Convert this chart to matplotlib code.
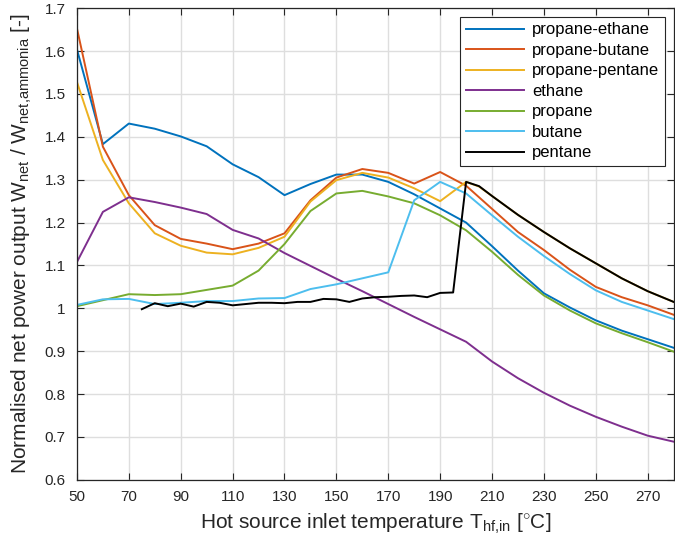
import matplotlib
matplotlib.use('Agg')
import matplotlib.pyplot as plt
from matplotlib.ticker import FuncFormatter

# hot source inlet temperatures
T = [50, 60, 70, 80, 90, 100, 110, 120, 130, 140, 150, 160, 170, 180, 190,
     200, 210, 220, 230, 240, 250, 260, 270, 280]

propane_ethane = [1.604, 1.383, 1.431, 1.419, 1.401, 1.378, 1.336, 1.306, 1.264, 1.290,
                  1.312, 1.312, 1.295, 1.266, 1.233, 1.200, 1.145, 1.088, 1.035, 1.002,
                  0.972, 0.948, 0.928, 0.908]
propane_butane = [1.653, 1.377, 1.264, 1.194, 1.162, 1.151, 1.138, 1.151, 1.175, 1.252,
                  1.305, 1.325, 1.316, 1.291, 1.318, 1.286, 1.232, 1.178, 1.136, 1.090,
                  1.050, 1.026, 1.007, 0.985]
ethane = [1.108, 1.225, 1.259, 1.248, 1.235, 1.220, 1.183, 1.163, 1.129, 1.099,
          1.069, 1.040, 1.010, 0.980, 0.951, 0.922, 0.876, 0.837, 0.803, 0.773,
          0.747, 0.724, 0.703, 0.689]
propane = [1.005, 1.019, 1.033, 1.031, 1.033, 1.043, 1.053, 1.088, 1.150, 1.227,
           1.268, 1.274, 1.261, 1.245, 1.217, 1.182, 1.132, 1.078, 1.030, 0.995,
           0.965, 0.942, 0.921, 0.899]
butane = [1.008, 1.021, 1.022, 1.010, 1.013, 1.017, 1.017, 1.023, 1.024, 1.045,
          1.056, 1.070, 1.084, 1.252, 1.295, 1.268, 1.217, 1.167, 1.122, 1.080,
          1.042, 1.015, 0.995, 0.975]

# propane-pentane has an extra point at 205
T_pp = [50, 60, 70, 80, 90, 100, 110, 120, 130, 140, 150, 160, 170, 180, 190,
        200, 205, 210, 220, 230, 240, 250, 260, 270, 280]
propane_pentane = [1.528, 1.346, 1.245, 1.175, 1.146, 1.130, 1.126, 1.141, 1.167, 1.249,
                   1.299, 1.316, 1.305, 1.280, 1.250, 1.295, 1.284, 1.262, 1.218, 1.178,
                   1.140, 1.105, 1.070, 1.040, 1.015]

# pentane was run on a finer 5 degree step
T_pent = [75, 80, 85, 90, 95, 100, 105, 110, 115, 120, 125, 130, 135, 140, 145, 150,
          155, 160, 165, 170, 175, 180, 185, 190, 195, 200, 205, 210, 220, 230, 240,
          250, 260, 270, 280]
pentane = [0.998, 1.012, 1.005, 1.011, 1.004, 1.015, 1.013, 1.007, 1.010, 1.013,
           1.013, 1.012, 1.015, 1.015, 1.022, 1.021, 1.015, 1.023, 1.026, 1.027,
           1.029, 1.030, 1.026, 1.036, 1.037, 1.295, 1.285, 1.262, 1.218, 1.178,
           1.140, 1.105, 1.070, 1.040, 1.015]

plt.rcParams['font.family'] = ['Liberation Sans', 'DejaVu Sans']
plt.rcParams['mathtext.fontset'] = 'custom'
plt.rcParams['mathtext.rm'] = 'Liberation Sans'
plt.rcParams['mathtext.it'] = 'Liberation Sans'

fig = plt.figure(figsize=(6.75, 5.49), dpi=100)
ax = fig.add_axes([0.114, 0.126, 0.884, 0.859])

lw = 1.4
ax.plot(T, propane_ethane, color='#0072BD', lw=lw, label='propane-ethane')
ax.plot(T, propane_butane, color='#D95319', lw=lw, label='propane-butane')
ax.plot(T_pp, propane_pentane, color='#EDB120', lw=lw, label='propane-pentane')
ax.plot(T, ethane, color='#7E2F8E', lw=lw, label='ethane')
ax.plot(T, propane, color='#77AC30', lw=lw, label='propane')
ax.plot(T, butane, color='#4DBEEE', lw=lw, label='butane')
ax.plot(T_pent, pentane, color='black', lw=lw, label='pentane')

ax.set_xlim(50, 280)
ax.set_ylim(0.6, 1.7)
ax.set_xticks(range(50, 280, 20))
ax.set_yticks([0.6 + 0.1 * i for i in range(12)])
ax.yaxis.set_major_formatter(FuncFormatter(lambda v, p: '%g' % round(v, 1)))

ax.grid(True, color='#dedede', lw=1.0)
ax.set_axisbelow(True)
ax.tick_params(direction='in', length=5, width=0.8, top=True, right=True,
               labelsize=11, colors='#262626')
ax.tick_params(axis='x', pad=7)
ax.tick_params(axis='y', pad=8)
for s in ax.spines.values():
    s.set_color('#262626')
    s.set_linewidth(0.9)

ax.set_xlabel(r'Hot source inlet temperature T$_{\mathrm{hf{,}in}}$ [$^{\circ}$C]',
              fontsize=15, color='#262626', labelpad=6)
ax.set_ylabel(r'Normalised net power output W$_{\mathrm{net}}$ / W$_{\mathrm{net{,}ammonia}}$ [-]',
              fontsize=15, color='#262626', labelpad=8)

leg = ax.legend(loc='upper right', fontsize=12, handlelength=3.5, fancybox=False,
                framealpha=1, edgecolor='#262626', borderaxespad=0.5,
                labelspacing=0.33, handletextpad=0.5, borderpad=0.35)
leg.get_frame().set_linewidth(0.8)

plt.savefig('out.png', dpi=100)
